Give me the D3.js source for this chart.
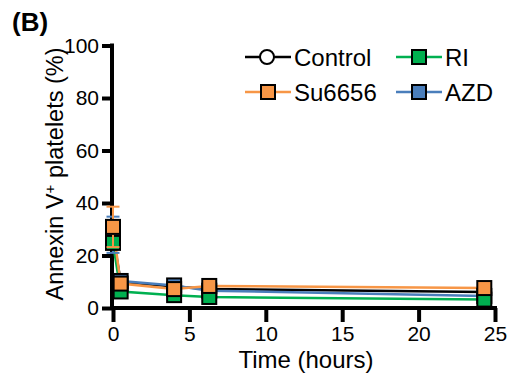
<!DOCTYPE html>
<html><head><meta charset="utf-8">
<script src="https://cdn.jsdelivr.net/npm/d3@7"></script>
<style>body{margin:0;background:#fff}svg{display:block}text{font-family:"Liberation Sans",Arial,sans-serif}</style>
</head><body>
<svg id="c" width="514" height="375"></svg>
<script>
const times = [0, 0.5, 4, 6.3, 24.3];
const controlVals = [27, 10, 8.2, 7.2, 6.1];
const azdVals = [27.9, 10.3, 8.6, 6.6, 4.6];
const riVals = [24.8, 6.3, 4.9, 4.2, 3.2];
const su6656Vals = [30.9, 9.3, 7.2, 8.4, 7.6];
const controlErr = [3, 1, 1, 1, 1];
const azdErr = [6.9, 1, 1, 1, 0.8];
const riErr = [2.4, 1, 1, 0.8, 0.8];
const su6656Err = [7.7, 1.5, 1.5, 1, 1];
const xTicks = [0, 5, 10, 15, 20, 25];
const yTicks = [0, 20, 40, 60, 80, 100];
const colors = {Control:"#000000", AZD:"#4A7EBB", RI:"#00B050", Su6656:"#F79646"};

const series = [
  {name:"Control", vals:controlVals, err:controlErr, marker:"circle"},
  {name:"AZD", vals:azdVals, err:azdErr, marker:"square"},
  {name:"RI", vals:riVals, err:riErr, marker:"square"},
  {name:"Su6656", vals:su6656Vals, err:su6656Err, marker:"square"}
];

const svg = d3.select("#c");
const x = d3.scaleLinear().domain([0,25]).range([113,495]);
const y = d3.scaleLinear().domain([0,100]).range([308,45.5]);

const xAxis = svg.append("g").attr("transform","translate(0,308)")
  .call(d3.axisBottom(x).tickValues(xTicks).tickSize(14).tickPadding(4));
const yAxis = svg.append("g").attr("transform","translate(112,0)")
  .call(d3.axisLeft(y).tickValues(yTicks).tickSize(10).tickPadding(3));
[xAxis,yAxis].forEach(g=>{
  g.select(".domain").attr("stroke","#000").attr("stroke-width",4);
  g.selectAll(".tick line").attr("stroke","#000").attr("stroke-width",4);
  g.selectAll(".tick text").attr("fill","#000").style("font-size","21px");
});
xAxis.select(".domain").attr("d","M110,0H497");
yAxis.select(".domain").attr("d","M0,43.5V310");

const line = d3.line().x((d,i)=>x(times[i])).y(d=>y(d));
const plot = svg.append("g");
series.forEach(s=>{
  plot.append("path").datum(s.vals).attr("d",line).attr("fill","none")
    .attr("stroke",colors[s.name]).attr("stroke-width",2.5);
});
series.forEach(s=>{
  const c = colors[s.name];
  const g = plot.append("g");
  s.vals.forEach((v,i)=>{
    const cx = x(times[i]);
    g.append("line").attr("x1",cx).attr("x2",cx).attr("y1",y(v+s.err[i])).attr("y2",y(v-s.err[i]))
      .attr("stroke",c).attr("stroke-width",2);
    [v+s.err[i], v-s.err[i]].forEach(e=>{
      g.append("line").attr("x1",cx-6.5).attr("x2",cx+6.5).attr("y1",y(e)).attr("y2",y(e))
        .attr("stroke",c).attr("stroke-width",2);
    });
  });
  s.vals.forEach((v,i)=>{
    const cx = x(times[i]), cy = y(v);
    if (s.marker==="circle") {
      g.append("circle").attr("cx",cx).attr("cy",cy).attr("r",6.5).attr("fill","#fff").attr("stroke","#000").attr("stroke-width",2);
    } else {
      g.append("rect").attr("x",cx-7).attr("y",cy-7).attr("width",14).attr("height",14)
        .attr("fill",c).attr("stroke","#000").attr("stroke-width",2);
    }
  });
});

const legendItems = [
  {name:"Control", col:0, row:0, marker:"circle"},
  {name:"RI", col:1, row:0, marker:"square"},
  {name:"Su6656", col:0, row:1, marker:"square"},
  {name:"AZD", col:1, row:1, marker:"square"}
];
const leg = svg.append("g");
legendItems.forEach(it=>{
  const lx = 245 + it.col*151, ly = 57 + it.row*35;
  const c = colors[it.name];
  leg.append("line").attr("x1",lx).attr("x2",lx+46).attr("y1",ly).attr("y2",ly).attr("stroke",c).attr("stroke-width",2.5);
  if (it.marker==="circle") {
    leg.append("circle").attr("cx",lx+22).attr("cy",ly).attr("r",7).attr("fill","#fff").attr("stroke","#000").attr("stroke-width",2);
  } else {
    leg.append("rect").attr("x",lx+16).attr("y",ly-7).attr("width",14).attr("height",14).attr("fill",c).attr("stroke","#000").attr("stroke-width",2);
  }
  leg.append("text").attr("x",lx+49).attr("y",ly+9).style("font-size","24px").attr("fill","#000").text(it.name);
});

svg.append("text").attr("x",306).attr("y",368).attr("text-anchor","middle").style("font-size","24px").text("Time (hours)");
const yt = svg.append("text").attr("transform","translate(63,174) rotate(-90)").attr("text-anchor","middle").style("font-size","23.5px");
yt.append("tspan").text("Annexin V");
yt.append("tspan").attr("dy","-8").style("font-size","15px").text("+");
yt.append("tspan").attr("dy","8").text(" platelets (%)");
svg.append("text").attr("x",12).attr("y",31).style("font-size","26px").style("font-weight","bold").text("(B)");
</script>
</body></html>
